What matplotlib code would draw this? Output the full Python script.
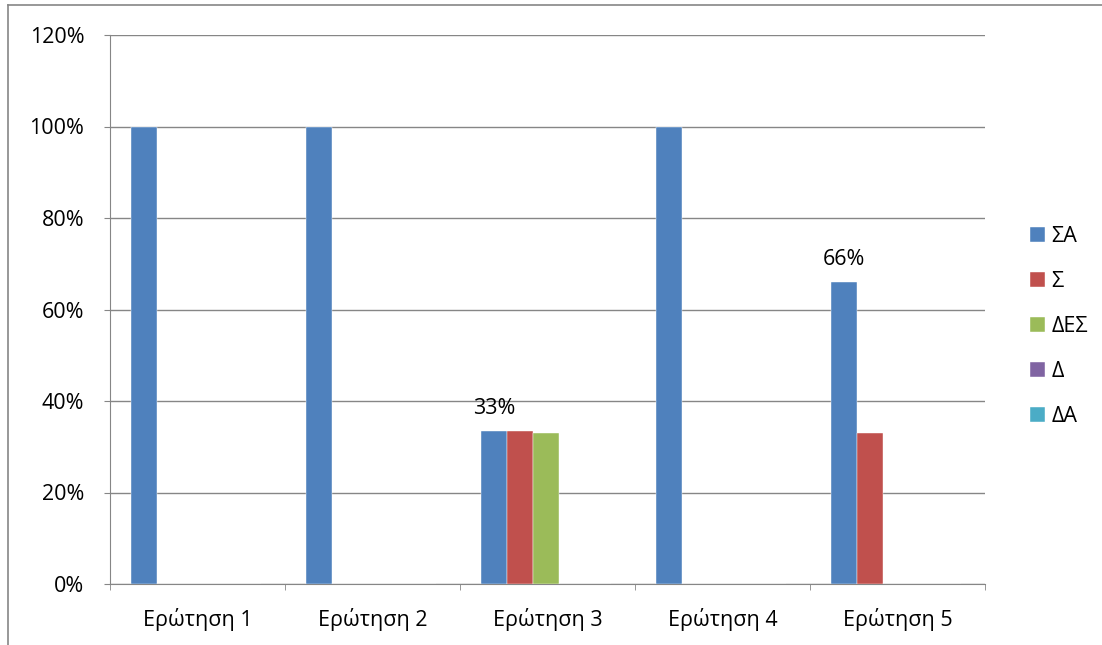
import matplotlib.pyplot as plt
import numpy as np
from matplotlib.lines import Line2D

categories = ["Ερώτηση 1", "Ερώτηση 2", "Ερώτηση 3", "Ερώτηση 4", "Ερώτηση 5"]
series = ["ΣΑ", "Σ", "ΔΕΣ", "Δ", "ΔΑ"]
values = [
    [1.0, 1.0, 0.334, 1.0, 0.66],   # ΣΑ
    [0.0, 0.0, 0.334, 0.0, 0.33],   # Σ
    [0.0, 0.0, 0.33, 0.0, 0.0],     # ΔΕΣ
    [0.0, 0.0, 0.0, 0.0, 0.0],      # Δ
    [0.0, 0.0, 0.0, 0.0, 0.0],      # ΔΑ
]
labels = {(0, 2): "33%", (0, 4): "66%"}
colors = ["#4f81bd", "#c0504d", "#9bbb59", "#8064a2", "#4bacc6"]

plt.rcParams['font.family'] = ['Open Sans', 'DejaVu Sans']
fs = 15.5

fig = plt.figure(figsize=(11.02, 6.45), dpi=100)
ax = fig.add_axes([110/1102, 1 - 584/645, 875/1102, 549/645])

x = np.arange(len(categories))
w = 26 / 175
for i, (name, vals) in enumerate(zip(series, values)):
    bars = ax.bar(x + (i - 2) * w - 0.01, vals, w, color=colors[i], label=name,
                  edgecolor="white", linewidth=0.3, zorder=3)
    for j, b in enumerate(bars):
        if (i, j) in labels:
            ax.annotate(labels[(i, j)], (b.get_x() + b.get_width() / 2, b.get_height()),
                        xytext=(0, 9), textcoords="offset points",
                        ha="center", va="bottom", fontsize=fs)

ax.set_xlim(-0.5, 4.5)
ax.set_ylim(0, 1.2)
ax.set_yticks(np.arange(0, 1.21, 0.2))
ax.set_yticklabels([f"{int(round(v*100))}%" for v in np.arange(0, 1.21, 0.2)], fontsize=fs)
ax.set_xticks(x)
ax.set_xticklabels(categories, fontsize=fs)
ax.set_xticks(np.arange(-0.5, 4.6, 1), minor=True)
ax.tick_params(axis="x", which="major", length=0, pad=17)
ax.tick_params(axis="x", which="minor", length=4.5, color="#868686")
ax.tick_params(axis="y", length=4.5, color="#868686", pad=14)
ax.grid(axis="y", color="#868686", linewidth=1, zorder=0)
for s in ["top", "right"]:
    ax.spines[s].set_visible(False)
for s in ["left", "bottom"]:
    ax.spines[s].set_color("#868686")

fig.legend(loc="upper left", bbox_to_anchor=(1021/1102, 1 - 217/645), frameon=False,
           fontsize=fs, handlelength=0.7, handleheight=0.7, labelspacing=1.12,
           handletextpad=0.3, borderaxespad=0)

fig.add_artist(Line2D([8/1102, 8/1102], [0, 1 - 5/645], color="#868686", linewidth=1.2))
fig.add_artist(Line2D([8/1102, 1], [1 - 5/645, 1 - 5/645], color="#868686", linewidth=1.2))

fig.savefig("out.png", dpi=100)
